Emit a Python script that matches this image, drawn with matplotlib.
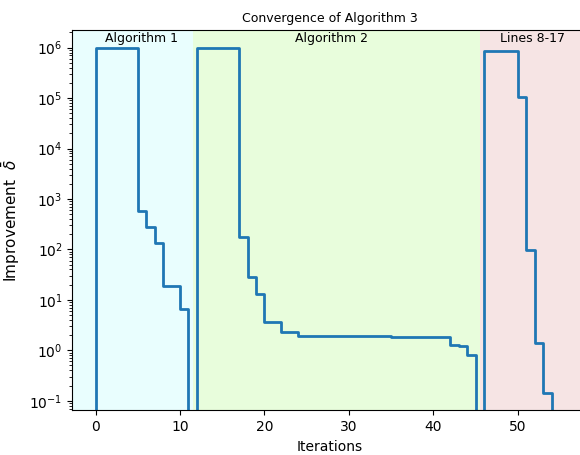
import numpy as np
import matplotlib
matplotlib.use("Agg")
import matplotlib.pyplot as plt

# improvement per iteration interval [k, k+1); 0 marks a switch between phases
iterations = np.arange(0, 56)
improvement = [0,
               1e6, 1e6, 1e6, 1e6, 1e6, 586, 278, 136, 19.1, 19.1, 6.7,
               0,
               1e6, 1e6, 1e6, 1e6, 1e6, 176, 28.4, 12.9, 3.66, 3.72, 2.33, 2.33,
               1.92, 1.92, 1.92, 1.92, 1.92, 1.92, 1.92, 1.92, 1.92, 1.92,
               1.88, 1.81, 1.81, 1.81, 1.81, 1.81, 1.81, 1.81, 1.25, 1.22, 0.82,
               0,
               8.6e5, 8.6e5, 8.6e5, 8.6e5, 1.07e5, 97, 1.42, 0.14,
               0]

# phase regions (x from, x to) and labels
regions = [(-5, 11.5), (11.5, 45.5), (45.5, 62)]
region_labels = ["Algorithm 1", "Algorithm 2", "Lines 8-17"]
label_pos = [5.5, 28.0, 51.8]
region_colors = ["#e9fefe", "#e8fddc", "#f6e4e4"]

fig = plt.figure(figsize=(5.8, 4.55), dpi=100)
ax = fig.add_axes([0.1247, 0.0982, 0.8874, 0.8358])

for (x0, x1), c in zip(regions, region_colors):
    ax.axvspan(x0, x1, color=c, lw=0, zorder=0)

ax.step(iterations, improvement, where='pre', color='#1f77b4', lw=2, zorder=2)

ax.set_yscale('log')
ax.set_xlim(-2.75, 58.2)
ax.set_ylim(10 ** -1.19, 10 ** 6.35)

for lbl, xp in zip(region_labels, label_pos):
    ax.text(xp, 0.995, lbl, transform=ax.get_xaxis_transform(),
            ha='center', va='top', fontsize=9)

ax.spines['right'].set_visible(False)
ax.set_xticks([0, 10, 20, 30, 40, 50])
ax.set_title("Convergence of Algorithm 3", fontsize=9)
ax.set_xlabel("Iterations")
ax.set_ylabel(r"Improvement  $\bar{\delta}$", fontsize=11, labelpad=5)

fig.savefig("out.png", dpi=100)
